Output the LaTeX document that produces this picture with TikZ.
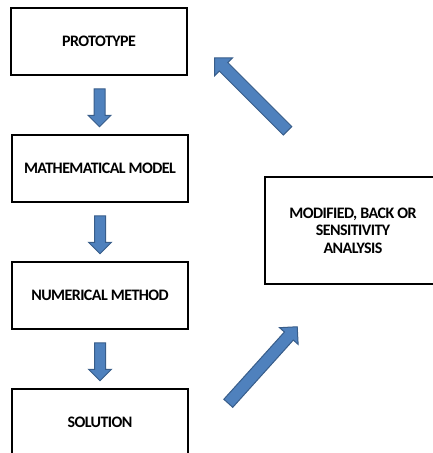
\documentclass[tikz,border=0pt]{standalone}
\usepackage{fontspec}
\setmainfont[LetterSpace=-3.5]{Carlito}
\usetikzlibrary{shapes.arrows}

\definecolor{arrowblue}{HTML}{4F81BD}
\definecolor{arrowedge}{HTML}{385D8A}

\begin{document}
\begin{tikzpicture}[x=1pt, y=-1pt,
		stage/.style={draw, line width=2pt, minimum width=176pt, minimum height=67pt, inner sep=2pt,
			align=center, font=\fontsize{16}{17.5}\selectfont\bfseries},
		blockarrow/.style={single arrow, fill=arrowblue, draw=arrowedge, line width=1pt,
			inner xsep=0pt, single arrow tip angle=90},
		downarrow/.style={blockarrow, rotate=-90, minimum height=38pt, inner ysep=5pt, single arrow head extend=6pt}]

		\useasboundingbox (0, 0) rectangle (432, 453);

		\node[stage] (proto) at (99, 41.5) {PROTOTYPE};
		\node[stage] (model) at (100, 168.5) {MATHEMATICAL MODEL};
		\node[stage] (method) at (100, 295.5) {NUMERICAL METHOD};
		\node[stage] (solution) at (100, 422.5) {SOLUTION};

		\node[stage, minimum height=107pt] (analysis) at (353, 230.5) {MODIFIED, BACK OR\\SENSITIVITY\\ANALYSIS};

		\path (proto) -- (model) node[midway, downarrow] {};
		\path (model) -- (method) node[midway, downarrow] {};
		\path (method) -- (solution) node[midway, downarrow] {};

		\node[blockarrow, rotate=48, minimum height=103pt, inner ysep=5.5pt, single arrow head extend=6.5pt] (toanalysis) at (260.75, 367.25) {};
		\node[blockarrow, rotate=135, minimum height=103pt, inner ysep=5.5pt, single arrow head extend=6.5pt] (toproto) at (253.25, 96.5) {};

	\end{tikzpicture}
\end{document}
